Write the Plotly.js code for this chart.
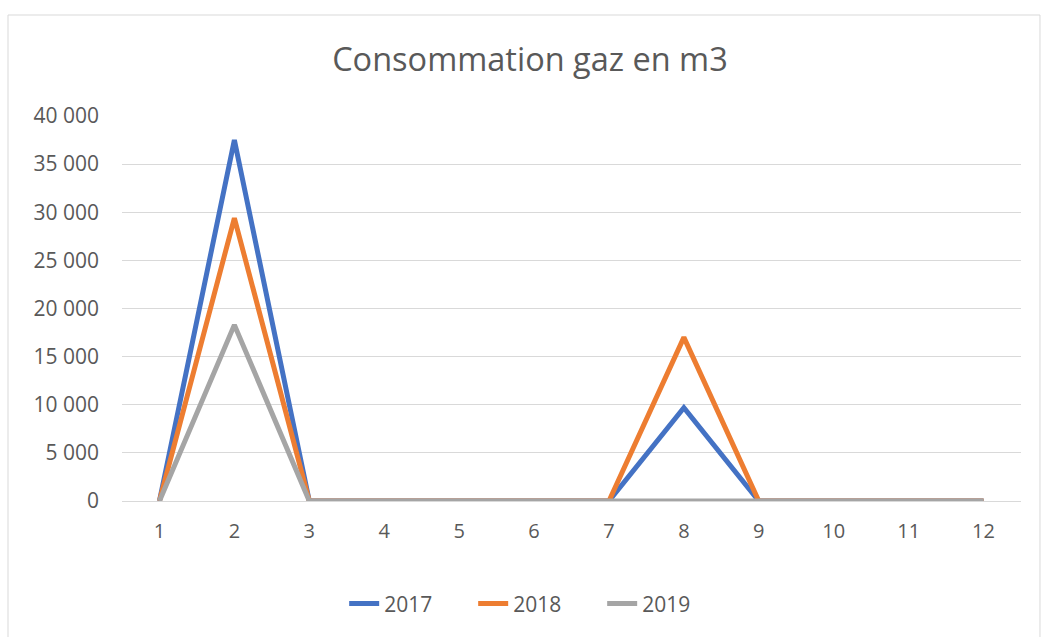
<!DOCTYPE html>
<html>
<head>
<meta charset="utf-8">
<script src="https://cdn.plot.ly/plotly-3.0.1.min.js"></script>
<style>
  body { margin: 0; background: #fff; }
  #chart { width: 1042px; height: 637px; }
</style>
</head>
<body>
<div id="chart"></div>
<script>
var months = ["1", "2", "3", "4", "5", "6", "7", "8", "9", "10", "11", "12"];
var gaz2017 = [0, 37500, 0, 0, 0, 0, 0, 9700, 0, 0, 0, 0];
var gaz2018 = [0, 29400, 0, 0, 0, 0, 0, 17000, 0, 0, 0, 0];
var gaz2019 = [0, 18300, 0, 0, 0, 0, 0, 0, 0, 0, 0, 0];

var font = "'Open Sans', 'Noto Sans', 'DejaVu Sans', sans-serif";
var grey = "#595959";

function serie(name, y, color) {
  return {
    x: months,
    y: y,
    name: name,
    type: "scatter",
    mode: "lines",
    line: { color: color, width: 5, shape: "linear" },
    hoverinfo: "x+y+name"
  };
}

var traces = [
  serie("2017", gaz2017, "#4472c4"),
  serie("2018", gaz2018, "#ed7d31"),
  serie("2019", gaz2019, "#a5a5a5")
];

var layout = {
  width: 1042,
  height: 637,
  margin: { l: 122, r: 21, t: 116, b: 136 },
  paper_bgcolor: "#ffffff",
  plot_bgcolor: "#ffffff",
  separators: ". ",
  font: { family: font, size: 21, color: grey },
  title: {
    text: "Consommation gaz en m3",
    font: { family: font, size: 32.5, color: grey },
    x: 0.5086,
    xanchor: "center",
    y: 0.906,
    yanchor: "middle"
  },
  xaxis: {
    type: "category",
    range: [-0.5, 11.5],
    showgrid: false,
    zeroline: false,
    showline: true,
    linecolor: "#d9d9d9",
    linewidth: 1,
    ticks: "",
    ticklabelstandoff: 12,
    tickfont: { family: font, size: 20, color: grey },
    fixedrange: true
  },
  yaxis: {
    range: [0, 40000],
    dtick: 5000,
    tickformat: ",d",
    showgrid: true,
    gridcolor: "#d9d9d9",
    gridwidth: 1,
    zeroline: false,
    showline: false,
    ticks: "",
    ticklabelstandoff: 22,
    tickfont: { family: font, size: 21, color: grey },
    fixedrange: true
  },
  showlegend: true,
  legend: {
    orientation: "h",
    xref: "container",
    yref: "container",
    x: 0.516,
    xanchor: "center",
    y: 0.052,
    yanchor: "middle",
    font: { family: font, size: 21, color: grey },
    entrywidth: 84,
    traceorder: "normal"
  },
  shapes: [
    {
      type: "rect",
      xref: "paper",
      yref: "paper",
      x0: -0.1268,
      x1: 1.0211,
      y0: -0.36,
      y1: 1.2623,
      line: { color: "#d9d9d9", width: 1 },
      fillcolor: "rgba(0,0,0,0)",
      layer: "below"
    }
  ]
};

Plotly.newPlot("chart", traces, layout, { displayModeBar: false, staticPlot: true });
</script>
</body>
</html>
